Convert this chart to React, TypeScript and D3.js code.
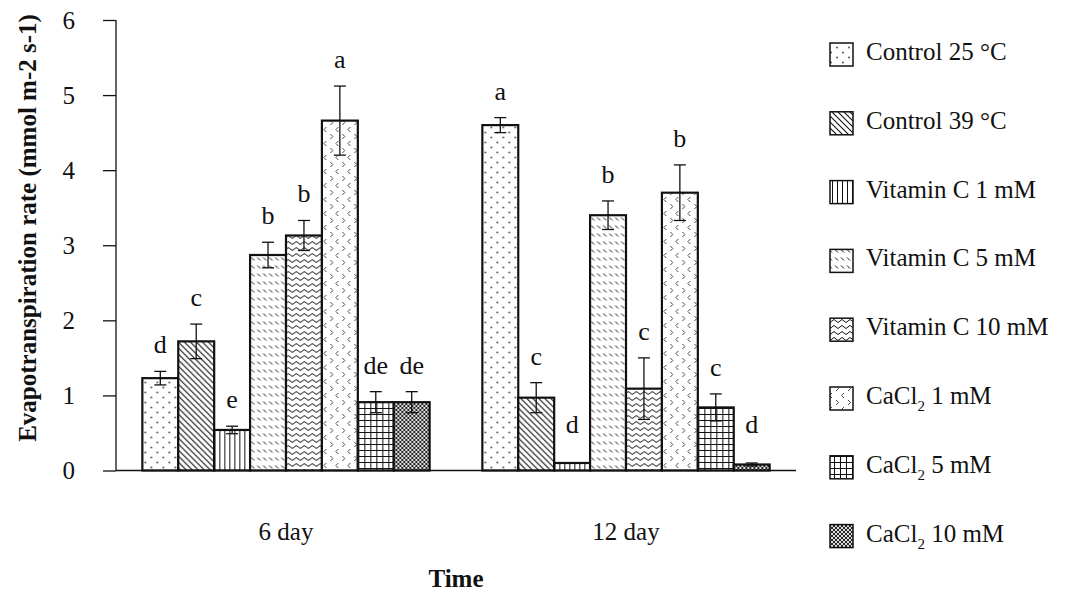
import React, { useEffect, useRef } from "react";
import * as d3 from "d3";

const days = ["6 day", "12 day"];
const series = [
  "Control 25 °C",
  "Control 39 °C",
  "Vitamin C 1 mM",
  "Vitamin C 5 mM",
  "Vitamin C 10 mM",
  "CaCl2 1 mM",
  "CaCl2 5 mM",
  "CaCl2 10 mM",
];
const day6Mean = [1.23, 1.72, 0.54, 2.87, 3.13, 4.66, 0.91, 0.91];
const day6Err = [0.09, 0.23, 0.05, 0.17, 0.2, 0.46, 0.14, 0.14];
const day6Letters = ["d", "c", "e", "b", "b", "a", "de", "de"];
const day12Mean = [4.6, 0.97, 0.1, 3.4, 1.09, 3.7, 0.84, 0.08];
const day12Err = [0.1, 0.2, 0.0, 0.19, 0.41, 0.37, 0.18, 0.02];
const day12Letters = ["a", "c", "d", "b", "c", "b", "c", "d"];
const yTicks = [0, 1, 2, 3, 4, 5, 6];

const means = [day6Mean, day12Mean];
const errs = [day6Err, day12Err];
const letters = [day6Letters, day12Letters];

const FONT = "'Liberation Serif', 'Times New Roman', serif";
const W = 1065;
const H = 594;

function Patterns() {
  const s = { stroke: "#111", fill: "none" } as const;
  return (
    <defs>
      <pattern id="p0" patternUnits="userSpaceOnUse" width={12} height={10}>
        <rect width={12} height={10} fill="#fff" />
        <circle cx={3} cy={2.5} r={0.9} fill="#444" />
        <circle cx={9} cy={7.5} r={0.9} fill="#444" />
      </pattern>
      <pattern id="p1" patternUnits="userSpaceOnUse" width={6} height={6}>
        <rect width={6} height={6} fill="#fff" />
        <path d="M0,0 L6,6 M-1,5 L1,7 M5,-1 L7,1" {...s} strokeWidth={1.1} />
      </pattern>
      <pattern id="p2" patternUnits="userSpaceOnUse" width={5} height={5}>
        <rect width={5} height={5} fill="#fff" />
        <path d="M2.5,0 V5" {...s} strokeWidth={1} />
      </pattern>
      <pattern id="p3" patternUnits="userSpaceOnUse" width={6} height={8}>
        <rect width={6} height={8} fill="#fff" />
        <path d="M1,1.5 L4,4.5" {...s} strokeWidth={1} />
      </pattern>
      <pattern id="p4" patternUnits="userSpaceOnUse" width={8} height={6}>
        <rect width={8} height={6} fill="#fff" />
        <path d="M0,3 Q2,0 4,3 T8,3" {...s} strokeWidth={1} />
      </pattern>
      <pattern id="p5" patternUnits="userSpaceOnUse" width={12} height={14}>
        <rect width={12} height={14} fill="#fff" />
        <path d="M4,1 L1.5,3.5 L4,6 M8,8 L10.5,10.5 L8,13" stroke="#333" fill="none" strokeWidth={0.9} />
      </pattern>
      <pattern id="p6" patternUnits="userSpaceOnUse" width={6} height={6}>
        <rect width={6} height={6} fill="#fff" />
        <path d="M0,0.5 H6 M0.5,0 V6" {...s} strokeWidth={1} />
      </pattern>
      <pattern id="p7" patternUnits="userSpaceOnUse" width={4} height={4}>
        <rect width={4} height={4} fill="#ddd" />
        <path d="M0,0 L4,4 M4,0 L0,4" {...s} strokeWidth={0.9} />
      </pattern>
    </defs>
  );
}

function LegendLabel({ name, x, y }: { name: string; x: number; y: number }) {
  if (name.startsWith("CaCl2")) {
    const rest = name.slice(5);
    return (
      <text x={x} y={y} fontFamily={FONT} fontSize={25} fill="#111">
        CaCl
        <tspan fontSize={15} dy={7}>2</tspan>
        <tspan dy={-7}>{rest}</tspan>
      </text>
    );
  }
  return (
    <text x={x} y={y} fontFamily={FONT} fontSize={25} fill="#111">
      {name}
    </text>
  );
}

export default function App() {
  const yAxisRef = useRef<SVGGElement>(null);

  const x0 = d3.scaleBand<string>().domain(days).range([116, 796]).paddingInner(0.155).paddingOuter(0.0775);
  const x1 = d3.scaleBand<string>().domain(series).range([0, x0.bandwidth()]).padding(0);
  const y = d3.scaleLinear().domain([0, 6]).range([470.5, 20]);

  useEffect(() => {
    if (!yAxisRef.current) return;
    const g = d3.select(yAxisRef.current);
    g.selectAll("*").remove();
    g.call(d3.axisLeft(y).tickValues(yTicks).tickSize(13).tickPadding(28).tickFormat(d3.format("d")) as any);
    g.selectAll("path").attr("stroke", "#111").attr("stroke-width", 1.3).attr("d", `M0,${y(6)}V${y(0)}`);
    g.selectAll("line").attr("stroke", "#111").attr("stroke-width", 1.3);
    g.selectAll("text").attr("font-family", FONT).attr("font-size", 25).attr("fill", "#111");
  }, []);

  const legendTop = d3.scaleLinear().domain([0, 1]).range([43, 111.8]);

  return (
    <svg width={W} height={H} style={{ display: "block", position: "absolute", left: 0, top: 0 }}>
      <Patterns />
      <rect width={W} height={H} fill="#fff" />
      {days.map((day, di) => (
        <g key={day} transform={`translate(${x0(day)},0)`}>
          {series.map((s, si) => {
            const v = means[di][si];
            const bx = x1(s)!;
            const bw = x1.bandwidth();
            return (
              <rect
                key={s}
                x={bx}
                y={y(v)}
                width={bw}
                height={y(0) - y(v)}
                fill={`url(#p${si})`}
                stroke="#111"
                strokeWidth={2.2}
              />
            );
          })}
          {series.map((s, si) => {
            const v = means[di][si];
            const e = errs[di][si];
            const cx = x1(s)! + x1.bandwidth() / 2;
            if (e <= 0) return null;
            return (
              <g key={s + "e"} stroke="#111" strokeWidth={1.3}>
                <line x1={cx} x2={cx} y1={y(v - e)} y2={y(v + e)} />
                <line x1={cx - 6} x2={cx + 6} y1={y(v + e)} y2={y(v + e)} />
                <line x1={cx - 6} x2={cx + 6} y1={y(v - e)} y2={y(v - e)} />
              </g>
            );
          })}
          {series.map((s, si) => {
            const v = means[di][si];
            const e = errs[di][si];
            const cx = x1(s)! + x1.bandwidth() / 2;
            const ty = Math.min(y(v + e) - 18, y(0.5));
            return (
              <text key={s + "l"} x={cx} y={ty} textAnchor="middle" fontFamily={FONT} fontSize={26} fill="#111">
                {letters[di][si]}
              </text>
            );
          })}
          <text
            x={x0.bandwidth() / 2}
            y={540}
            textAnchor="middle"
            fontFamily={FONT}
            fontSize={25}
            fill="#111"
          >
            {day}
          </text>
        </g>
      ))}
      <g ref={yAxisRef} transform="translate(116,0)" />
      <line x1={116} x2={796} y1={y(0)} y2={y(0)} stroke="#111" strokeWidth={1.3} />
      <text x={456} y={587} textAnchor="middle" fontFamily={FONT} fontSize={25} fontWeight="bold" fill="#111">
        Time
      </text>
      <text
        transform={`translate(36,228) rotate(-90)`}
        textAnchor="middle"
        fontFamily={FONT}
        fontSize={25}
        fontWeight="bold"
        fill="#111"
      >
        Evapotranspiration rate (mmol m-2 s-1)
      </text>
      {series.map((s, i) => {
        const top = legendTop(i);
        return (
          <g key={s}>
            <rect x={830} y={top} width={23} height={23} fill={`url(#p${i})`} stroke="#111" strokeWidth={1.5} />
            <LegendLabel name={s} x={866} y={top + 17} />
          </g>
        );
      })}
    </svg>
  );
}
